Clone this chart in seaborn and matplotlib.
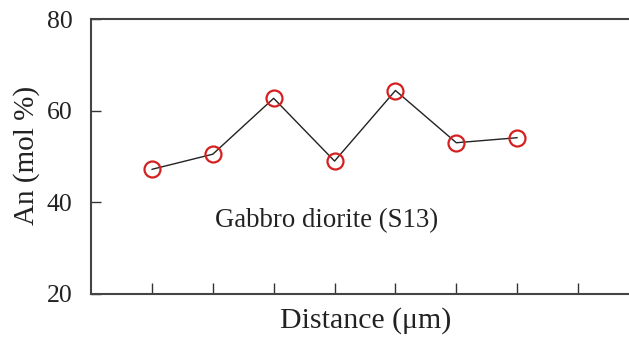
import matplotlib
matplotlib.use("Agg")
import matplotlib.pyplot as plt
import seaborn as sns
import pandas as pd

distance = [1, 2, 3, 4, 5, 6, 7]
an_mol = [47.2, 50.5, 62.7, 49.0, 64.4, 53.0, 54.1]
x_ticks = [1, 2, 3, 4, 5, 6, 7, 8]
y_ticks = [20, 40, 60, 80]

sns.set_theme(style="white")
plt.rcParams['font.family'] = ['Liberation Serif', 'DejaVu Serif']

df = pd.DataFrame({"Distance": distance, "An": an_mol})

W, H = 629, 340
fig = plt.figure(figsize=(W / 100, H / 100), dpi=100)
ax = fig.add_axes([91 / W, 1 - 294 / H, 548 / W, 275 / H])

sns.lineplot(data=df, x="Distance", y="An", ax=ax, color="#222222", linewidth=1.0,
             marker="o", markersize=11.5, markerfacecolor="none",
             markeredgecolor="#d42020", markeredgewidth=1.6)

ax.set_xlim(0, 9)
ax.set_ylim(20, 80)
ax.set_xticks(x_ticks)
ax.set_xticklabels([])
ax.set_yticks(y_ticks)
ax.tick_params(axis="x", direction="in", length=8, width=1.0, color="#333333", bottom=True)
ax.tick_params(axis="y", direction="in", length=7, width=1.0, color="#333333", left=True,
               labelsize=18.5, labelcolor="#222222", pad=13.5)
for s in ["left", "bottom", "top"]:
    ax.spines[s].set_color("#444444")
    ax.spines[s].set_linewidth(1.5)
ax.spines["right"].set_visible(False)

ax.set_xlabel("Distance (μm)", fontsize=21.5, color="#222222", va="baseline")
ax.xaxis.set_label_coords(0.501, -0.1236)
ax.set_ylabel("An (mol %)", fontsize=21, color="#222222", va="top")
ax.yaxis.set_label_coords(-0.1423, 0.5055)
ax.text(2.03, 34.6, "Gabbro diorite (S13)", fontsize=19.3, color="#222222",
        ha="left", va="baseline")

fig.savefig("out.png", dpi=100)
